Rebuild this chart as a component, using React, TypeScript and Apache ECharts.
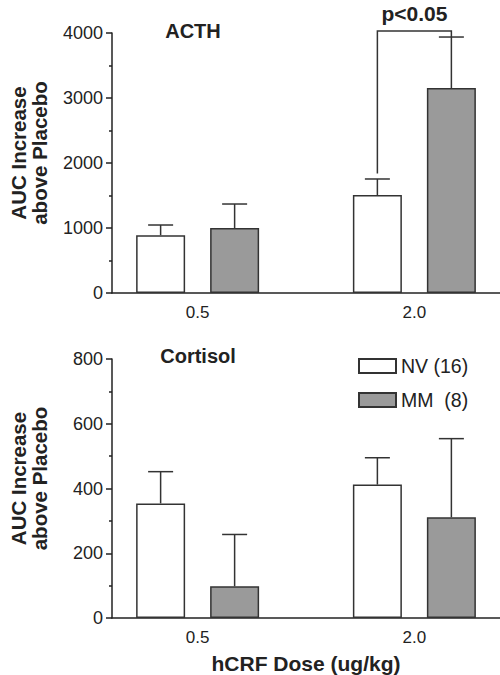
import React, { useEffect, useRef } from "react";
import * as echarts from "echarts";

// ---- data ----
const doses = ["0.5", "2.0"];
const dosePos = [1, 2];
const groupNames = ["NV (16)", "MM  (8)"];

const acthNV = [890, 1508];
const acthNVErr = [156, 246];
const acthMM = [1000, 3154];
const acthMMErr = [369, 784];

const cortNV = [354, 412];
const cortNVErr = [98, 83];
const cortMM = [98, 311];
const cortMMErr = [160, 243];

// significance bracket (ACTH, dose 2.0): [dosePos, NV end, top, MM end]
const acthBracket = [[2, 1840, 4030, 3938]];
const acthBracketLabel = "p<0.05";

const yTicksACTH = { min: 0, max: 4000, interval: 1000 };
const yTicksCort = { min: 0, max: 800, interval: 200 };

// ---- styles ----
const FONT = "'Liberation Sans', Arial, Helvetica, sans-serif";
const INK = "#222";
const GRAY = "#9a9a9a";
const BAR_W = 49;
const BAR_GAP_PX = 25;
const OFF = (BAR_W + BAR_GAP_PX) / 2;
const CAP_W = 25;

export default function App() {
  const ref = useRef<HTMLDivElement>(null);

  useEffect(() => {
    if (!ref.current) return;
    const chart = echarts.init(ref.current, undefined, { renderer: "svg" });

    const xAxisBase = (gridIndex: number, withName: boolean) => ({
      type: "value",
      gridIndex,
      min: 0.605,
      max: 2.395,
      axisLine: { show: true, onZero: false, lineStyle: { color: INK, width: 1.5 } },
      axisTick: { show: false },
      splitLine: { show: false },
      axisLabel: {
        customValues: dosePos,
        formatter: (v: number) => doses[dosePos.indexOf(v)] ?? "",
        color: INK,
        fontSize: 17,
        fontFamily: FONT,
        margin: 11,
      },
      name: withName ? "hCRF Dose (ug/kg)" : "",
      nameLocation: "middle",
      nameGap: 35,
      nameTextStyle: { color: INK, fontSize: 21, fontWeight: "bold", fontFamily: FONT },
    });

    const yAxisBase = (gridIndex: number, t: { min: number; max: number; interval: number }) => ({
      type: "value",
      gridIndex,
      min: t.min,
      max: t.max,
      interval: t.interval,
      axisLine: { show: true, lineStyle: { color: INK, width: 1.5 } },
      axisTick: { show: true, length: 6, lineStyle: { color: INK, width: 1.5 } },
      minorTick: { show: true, splitNumber: 2, length: 3, lineStyle: { color: INK, width: 1.5 } },
      splitLine: { show: false },
      axisLabel: {
        color: INK,
        fontSize: 18,
        fontFamily: FONT,
        margin: 9,
        formatter: (v: number) => String(v),
      },
      name: "AUC Increase\nabove Placebo",
      nameLocation: "middle",
      nameRotate: 90,
      nameGap: 62,
      nameTextStyle: {
        color: INK,
        fontSize: 20.5,
        fontWeight: "bold",
        fontFamily: FONT,
        lineHeight: 21,
        align: "center",
        padding: [0, 0, 0, 20],
      },
    });

    const barSeries = (name: string, vals: number[], color: string, idx: number) => ({
      type: "bar",
      name,
      xAxisIndex: idx,
      yAxisIndex: idx,
      data: vals.map((v, i) => [dosePos[i], v]),
      barWidth: BAR_W,
      barGap: `${(BAR_GAP_PX / BAR_W) * 100}%`,
      itemStyle: { color, borderColor: "#333", borderWidth: 1.5 },
      z: 2,
    });

    const errSeries = (vals: number[], errs: number[], off: number, idx: number) => ({
      type: "custom",
      xAxisIndex: idx,
      yAxisIndex: idx,
      z: 3,
      encode: { x: 0, y: 1 },
      data: vals.map((v, i) => [dosePos[i], v, errs[i]]),
      renderItem: (_p: any, api: any) => {
        const x = api.value(0);
        const y = api.value(1);
        const e = api.value(2);
        const b = api.coord([x, y]);
        const t = api.coord([x, y + e]);
        const cx = b[0] + off;
        const st = { stroke: "#333", lineWidth: 1.5 };
        return {
          type: "group",
          children: [
            { type: "line", shape: { x1: cx, y1: b[1], x2: cx, y2: t[1] }, style: st },
            { type: "line", shape: { x1: cx - CAP_W / 2, y1: t[1], x2: cx + CAP_W / 2, y2: t[1] }, style: st },
          ],
        };
      },
    });

    const bracketSeries = {
      type: "custom",
      xAxisIndex: 0,
      yAxisIndex: 0,
      z: 4,
      clip: false,
      encode: { x: 0, y: 2 },
      data: acthBracket,
      renderItem: (_p: any, api: any) => {
        const x = api.value(0);
        const a = api.coord([x, api.value(1)]);
        const top = api.coord([x, api.value(2)]);
        const c = api.coord([x, api.value(3)]);
        const xl = a[0] - OFF;
        const xr = a[0] + OFF;
        return {
          type: "group",
          children: [
            {
              type: "polyline",
              shape: { points: [[xl, a[1]], [xl, top[1]], [xr, top[1]], [xr, c[1]]] },
              style: { stroke: "#333", lineWidth: 1.5, fill: "none" },
            },
            {
              type: "text",
              x: (xl + xr) / 2,
              y: top[1] - 7,
              style: {
                text: acthBracketLabel,
                fill: INK,
                font: `bold 21px ${FONT}`,
                align: "center",
                verticalAlign: "bottom",
              },
            },
          ],
        };
      },
    };

    chart.setOption({
      animation: false,
      backgroundColor: "#fff",
      textStyle: { fontFamily: FONT },
      title: [
        {
          text: "ACTH",
          left: 188,
          top: 16,
          textAlign: "center",
          textStyle: { color: INK, fontSize: 20, fontWeight: "bold", fontFamily: FONT },
        },
        {
          text: "Cortisol",
          left: 193,
          top: 341,
          textAlign: "center",
          textStyle: { color: INK, fontSize: 20, fontWeight: "bold", fontFamily: FONT },
        },
      ],
      legend: {
        orient: "vertical",
        left: 353,
        top: 351,
        itemWidth: 37,
        itemHeight: 14,
        itemGap: 14,
        icon: "rect",
        data: groupNames,
        textStyle: { color: INK, fontSize: 19.5, fontFamily: FONT },
      },
      grid: [
        { left: 108, right: 0, top: 33, height: 260 },
        { left: 108, right: 0, top: 359, height: 260 },
      ],
      xAxis: [xAxisBase(0, false), xAxisBase(1, true)],
      yAxis: [yAxisBase(0, yTicksACTH), yAxisBase(1, yTicksCort)],
      series: [
        barSeries(groupNames[0], acthNV, "#fff", 0),
        barSeries(groupNames[1], acthMM, GRAY, 0),
        errSeries(acthNV, acthNVErr, -OFF, 0),
        errSeries(acthMM, acthMMErr, OFF, 0),
        bracketSeries,
        barSeries(groupNames[0], cortNV, "#fff", 1),
        barSeries(groupNames[1], cortMM, GRAY, 1),
        errSeries(cortNV, cortNVErr, -OFF, 1),
        errSeries(cortMM, cortMMErr, OFF, 1),
      ],
    });

    return () => chart.dispose();
  }, []);

  return (
    <div
      ref={ref}
      style={{ position: "fixed", left: 0, top: 0, width: 500, height: 675, background: "#fff" }}
    />
  );
}
